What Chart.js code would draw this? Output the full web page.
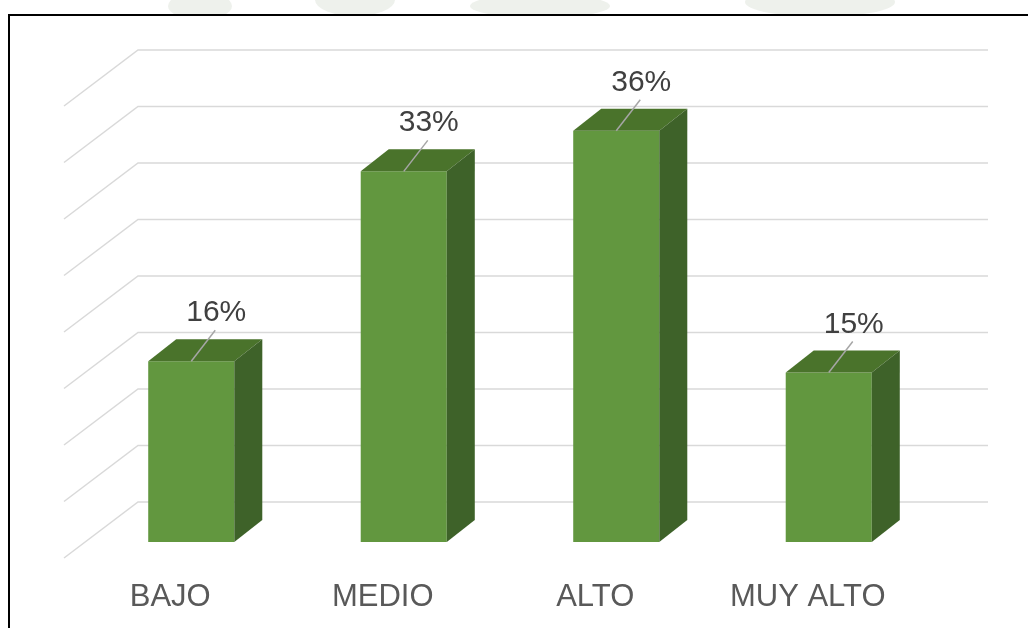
<!DOCTYPE html>
<html>
<head>
<meta charset="utf-8">
<script src="https://cdn.jsdelivr.net/npm/chart.js@4/dist/chart.umd.min.js"></script>
<style>
    html, body { margin: 0; padding: 0; background: #ffffff; }
    #wrap { position: relative; width: 1028px; height: 628px; }
</style>
</head>
<body>
<div id="wrap"><canvas id="nivelChart"></canvas></div>
<script>
    // Chart data
    const categories = ['BAJO', 'MEDIO', 'ALTO', 'MUY ALTO'];
    const percentages = [16.0, 32.8, 36.4, 15.0];
    const yTicks = [0, 5, 10, 15, 20, 25, 30, 35, 40];

    // 3D look: back wall / floor front offsets measured from the bar plane
    const WALL_DX = 53, WALL_DY = -40;
    const FLOOR_DX = -21, FLOOR_DY = 16;
    const DEPTH_DX = 28, DEPTH_DY = -22;

    const FRONT = '#62973f';
    const TOP = '#4a732b';
    const SIDE = '#3e6229';

    const pseudo3d = {
        id: 'pseudo3d',

        beforeDraw(chart) {
            const ctx = chart.ctx;
            ctx.save();
            // faint scanned watermark above the frame
            ctx.fillStyle = 'rgba(205,214,200,0.35)';
            [[200, 6, 32, 14], [355, 0, 40, 16], [540, 6, 70, 12], [820, 2, 75, 15]].forEach(function (e) {
                ctx.beginPath();
                ctx.ellipse(e[0], e[1], e[2], e[3], 0, 0, Math.PI * 2);
                ctx.fill();
            });
            ctx.fillStyle = '#ffffff';
            ctx.fillRect(9, 15, 1019, 613);

            // frame (top and left only, the rest is cut off)
            ctx.strokeStyle = '#000000';
            ctx.lineWidth = 2;
            ctx.beginPath();
            ctx.moveTo(1028, 15);
            ctx.lineTo(9, 15);
            ctx.lineTo(9, 628);
            ctx.stroke();
            ctx.restore();
        },

        beforeDatasetsDraw(chart) {
            const ctx = chart.ctx;
            const area = chart.chartArea;
            const y = chart.scales.y;

            ctx.save();
            ctx.strokeStyle = '#d9d9d9';
            ctx.lineWidth = 1.5;
            yTicks.forEach(function (t) {
                const py = y.getPixelForValue(t);
                const bx = area.left + WALL_DX;
                const by = py + WALL_DY;
                ctx.beginPath();
                ctx.moveTo(area.right + WALL_DX, by);
                ctx.lineTo(bx, by);
                ctx.lineTo(area.left + FLOOR_DX, py + FLOOR_DY);
                ctx.stroke();
            });
            ctx.restore();
        },

        afterDatasetsDraw(chart) {
            const ctx = chart.ctx;
            const meta = chart.getDatasetMeta(0);
            const x = chart.scales.x;

            ctx.save();
            meta.data.forEach(function (bar, i) {
                const xl = bar.x - bar.width / 2;
                const xr = bar.x + bar.width / 2;
                const yt = bar.y;
                const yb = bar.base;

                // top face
                ctx.fillStyle = TOP;
                ctx.beginPath();
                ctx.moveTo(xl, yt);
                ctx.lineTo(xl + DEPTH_DX, yt + DEPTH_DY);
                ctx.lineTo(xr + DEPTH_DX, yt + DEPTH_DY);
                ctx.lineTo(xr, yt);
                ctx.closePath();
                ctx.fill();

                // side face
                ctx.fillStyle = SIDE;
                ctx.beginPath();
                ctx.moveTo(xr, yt);
                ctx.lineTo(xr + DEPTH_DX, yt + DEPTH_DY);
                ctx.lineTo(xr + DEPTH_DX, yb + DEPTH_DY);
                ctx.lineTo(xr, yb);
                ctx.closePath();
                ctx.fill();

                // leader line + data label
                ctx.strokeStyle = '#a6a6a6';
                ctx.lineWidth = 1.5;
                ctx.beginPath();
                ctx.moveTo(bar.x, yt);
                ctx.lineTo(bar.x + 24, yt - 31);
                ctx.stroke();

                ctx.fillStyle = '#404040';
                ctx.font = '30px "Liberation Sans", Arial, sans-serif';
                ctx.textAlign = 'center';
                ctx.textBaseline = 'alphabetic';
                ctx.fillText(Math.round(percentages[i]) + '%', bar.x + 25, yt - 40);
            });

            // category labels sit on the front edge of the floor
            ctx.fillStyle = '#595959';
            ctx.font = '31px "Liberation Sans", Arial, sans-serif';
            ctx.textAlign = 'center';
            ctx.textBaseline = 'alphabetic';
            categories.forEach(function (c, i) {
                ctx.fillText(c, x.getPixelForValue(i) + FLOOR_DX, 606);
            });
            ctx.restore();
        },
    };

    const ctx = document.getElementById('nivelChart').getContext('2d');

    new Chart(ctx, {
        type: 'bar',
        data: {
            labels: categories,
            datasets: [
                {
                    label: 'Nivel',
                    data: percentages,
                    backgroundColor: FRONT,
                    borderWidth: 0,
                    barPercentage: 0.405,
                    categoryPercentage: 1,
                },
            ],
        },
        options: {
            responsive: true,
            maintainAspectRatio: false,
            animation: false,
            layout: {
                padding: { top: 90, right: 93, bottom: 86, left: 85 },
            },
            plugins: {
                legend: { display: false },
                tooltip: { enabled: false },
            },
            scales: {
                x: { display: false },
                y: {
                    display: false,
                    min: 0,
                    max: 40,
                    ticks: { stepSize: 5 },
                },
            },
        },
        plugins: [pseudo3d],
    });
</script>
</body>
</html>
